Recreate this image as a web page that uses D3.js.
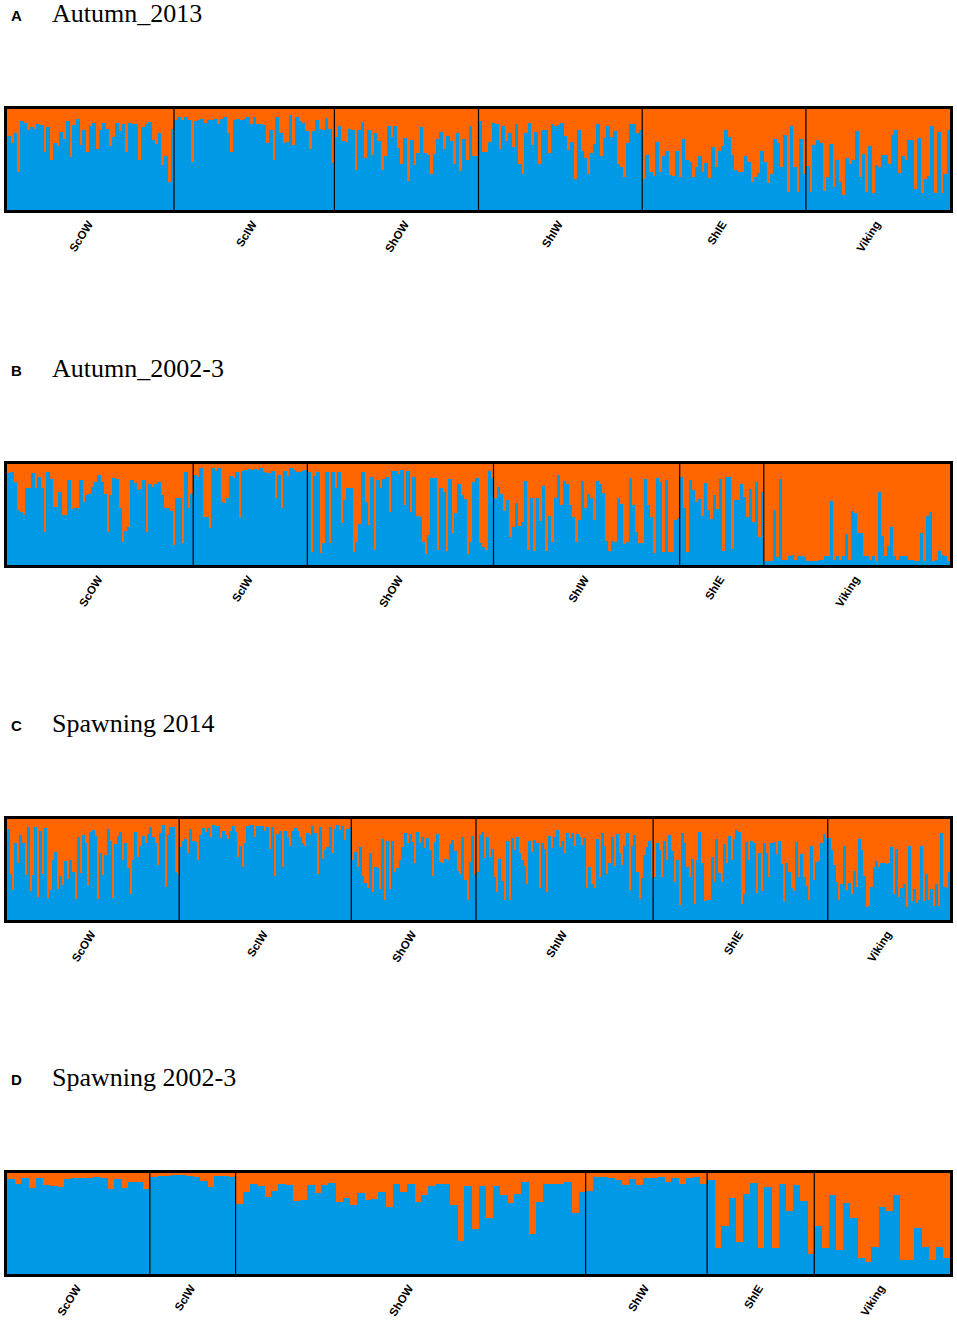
<!DOCTYPE html>
<html>
<head>
<meta charset="utf-8">
<script src="https://cdn.jsdelivr.net/npm/d3@7"></script>
<style>
  body { margin: 0; background: #fff; }
  svg { display: block; }
</style>
</head>
<body>
<svg width="957" height="1322"></svg>
<script>
// population names, same order in every panel
const groups = ["ScOW", "ScIW", "ShOW", "ShIW", "ShIE", "Viking"];
const panelLetters = ["A", "B", "C", "D"];
const panelTitles = ["Autumn_2013", "Autumn_2002-3", "Spawning 2014", "Spawning 2002-3"];

// membership in the blue cluster, % per individual
// A  Autumn_2013
const aut13_ScOW = [73,66,76,38,88,86,79,82,80,85,84,57,82,50,66,63,77,70,88,52,84,90,64,79,57,83,86,60,79,86,80,63,72,86,78,85,57,86,85,85,50,82,85,87,69,65,76,45,53,28,80];
const aut13_ScIW = [89,92,89,92,89,48,88,89,90,86,89,89,90,85,90,92,76,57,89,90,89,90,92,85,92,85,85,84,66,79,50,92,76,66,67,94,64,92,88,86,78,60,78,89,80,79,91,80,47];
const aut13_ShOW = [72,83,68,67,80,79,40,79,87,51,79,54,76,68,40,53,83,72,83,61,46,71,29,69,45,56,82,56,54,36,55,70,77,60,73,68,46,76,39,70,50,83,53,53];
const aut13_ShIW = [88,57,57,67,86,85,60,83,68,76,62,85,46,36,76,86,64,77,46,79,79,56,85,83,84,86,73,59,67,31,79,58,51,36,56,65,85,53,71,83,72,78,46,43,33,66,85,85,76,79];
const aut13_ShIE = [31,54,38,34,67,38,53,58,35,34,58,33,70,50,48,33,43,53,38,47,32,62,43,58,63,79,72,54,40,38,38,53,48,28,33,37,58,48,27,36,70,66,43,74,18,83,43,18,70,36];
const aut13_Viking = [44,18,64,69,66,19,33,65,23,50,28,15,51,46,50,78,33,55,18,63,17,45,43,54,54,46,74,79,37,53,50,69,69,21,71,17,31,34,83,17,77,17,36,79];

// B  Autumn_2002-3
const aut02_ScOW = [91,92,82,54,52,50,76,76,91,76,87,76,33,92,85,57,57,72,50,50,84,55,56,56,84,62,69,70,77,82,89,82,70,33,69,86,85,56,23,34,38,84,81,74,75,84,33,80,77,80,82,69,56,56,53,20,66,66,22,92,56,70];
const aut02_ScIW = [89,87,96,48,48,37,96,93,96,62,61,66,88,86,92,48,93,94,95,94,95,94,96,92,91,91,93,66,89,56,93,88,96,94,92,92,93,94];
const aut02_ShOW = [92,13,88,92,12,22,92,22,92,76,92,42,64,76,76,13,23,41,92,62,40,87,15,84,76,85,87,52,93,93,90,94,59,93,52,87,49,48,23,11,30,86,86,15,76,72,14,85,32,51,80,69,65,11,23,82,86,22,18,15,93,86];
const aut02_ShIW = [66,77,70,53,64,28,38,61,39,43,83,15,66,14,66,44,78,14,49,23,66,89,59,83,80,59,48,23,45,83,56,70,66,45,83,80,71,24,14,24,23,66,60,21,23,86,59,33,22,22,85,59,48,12,86,82,13,84,13,13,45,47];
const aut02_ShIE = [87,56,13,84,74,62,65,49,81,54,46,69,55,85,14,87,87,16,64,64,80,67,48,75,43,82,28,72];
const aut02_Viking = [4,4,4,54,8,85,5,5,9,10,5,9,9,8,4,4,4,4,5,5,9,9,63,5,9,5,9,31,5,53,51,32,32,9,9,5,9,4,72,29,9,19,38,9,5,9,9,9,5,5,4,4,32,4,49,52,4,5,14,10,9,4];

// C  Spawning 2014
const spw14_ScOW = [90,46,30,76,56,84,76,45,92,29,45,92,23,88,46,91,22,30,59,67,31,44,35,58,41,59,48,21,82,47,84,76,35,87,89,83,21,66,45,64,90,78,22,75,83,87,59,76,51,26,59,87,62,73,83,76,85,92,82,76,54,86,94,33,84,92,92,48,45];
const spw14_ScIW = [72,78,80,66,90,78,77,59,84,91,87,91,82,94,93,93,81,88,84,80,88,93,87,62,73,52,76,93,94,94,82,93,93,93,88,92,70,92,44,85,88,52,88,82,73,88,91,88,82,76,73,86,84,93,86,46,92,60,69,72,92,66,90,94,89,93,79,90,92];
const spw14_ShOW = [59,67,52,72,44,37,32,66,28,52,51,31,80,20,78,31,78,48,51,59,72,86,76,85,77,56,87,76,82,71,81,69,44,77,85,57,56,60,59,75,79,68,49,46,82,40,20,57,83,45];
const spw14_ShIW = [48,84,87,61,82,62,70,43,28,60,39,20,78,20,81,69,82,66,59,53,36,78,67,79,76,32,76,70,28,83,71,82,89,72,78,66,86,81,86,73,85,82,74,81,32,52,36,32,80,43,86,73,46,56,82,53,85,66,54,73,86,30,73,84,48,21,42,64,72,78,42];
const spw14_ShIE = [43,76,69,43,78,59,84,68,38,59,15,86,76,52,43,60,16,59,87,56,19,20,20,62,38,80,47,38,75,56,83,59,80,89,87,16,26,77,59,78,76,27,66,29,76,66,43,76,77,65,78,55,19,56,48,32,29,77,43,65,43,34,20,73,40,57,58,76,85,81];
const spw14_Viking = [81,69,54,38,20,36,73,30,37,26,49,33,80,69,44,13,14,33,52,58,52,56,56,55,56,72,26,70,23,32,36,13,73,19,31,17,20,73,19,46,20,31,14,36,14,86,33,32,48];

// D  Spawning 2002-3
const spw02_ScOW = [94,89,95,85,95,88,87,86,94,95,95,95,96,95,84,94,85,91,91,84];
const spw02_ScIW = [96,97,97,98,98,97,96,92,86,97,97,96];
const spw02_ShOW = [69,81,89,87,76,82,89,88,72,73,88,80,88,90,71,75,68,80,73,74,81,66,89,81,89,71,78,87,89,89,68,33,87,45,87,55,87,78,70,79,91,40,71,89,89,89,91,60,81];
const spw02_ShIW = [82,96,96,95,93,88,94,88,95,95,96,91,95,89,95,96,89];
const spw02_ShIE = [93,26,48,75,32,79,90,26,86,26,89,62,88,72,20];
const spw02_Viking = [48,26,78,24,70,55,16,12,27,66,62,78,14,14,46,27,14,27,16];

const panelData = [
    [aut13_ScOW, aut13_ScIW, aut13_ShOW, aut13_ShIW, aut13_ShIE, aut13_Viking],
    [aut02_ScOW, aut02_ScIW, aut02_ShOW, aut02_ShIW, aut02_ShIE, aut02_Viking],
    [spw14_ScOW, spw14_ScIW, spw14_ShOW, spw14_ShIW, spw14_ShIE, spw14_Viking],
    [spw02_ScOW, spw02_ScIW, spw02_ShOW, spw02_ShIW, spw02_ShIE, spw02_Viking]
];

const blue = "#0099e6", orange = "#ff6600";
const svg = d3.select("svg");
const left = 7, right = 950, plotH = 101;
const tops = [109, 464, 819, 1173];

panelData.forEach(function (groupVals, p) {
    const top = tops[p], bottom = top + plotH;

    // flatten individuals, keeping which group they belong to
    let inds = [];
    groupVals.forEach(function (vals, gi) {
        vals.forEach(function (v) { inds.push({ g: gi, q: v / 100 }); });
    });

    const x = d3.scaleBand().domain(d3.range(inds.length)).range([left, right]);
    const y = d3.scaleLinear().domain([0, 1]).range([bottom, top]);
    const g = svg.append("g");

    // panel letter + title
    g.append("text")
        .attr("x", 11).attr("y", top - 88)
        .attr("font-family", "Liberation Sans, Arial, sans-serif")
        .attr("font-weight", "bold").attr("font-size", 15)
        .text(panelLetters[p]);
    g.append("text")
        .attr("x", 52).attr("y", top - 87)
        .attr("font-family", "Liberation Serif, Times New Roman, serif")
        .attr("font-size", 26)
        .text(panelTitles[p]);

    // orange background of the plot, blue part of every bar on top of it
    g.append("rect")
        .attr("x", left).attr("y", top)
        .attr("width", right - left).attr("height", plotH)
        .attr("fill", orange);

    g.selectAll(".ind")
        .data(inds)
        .enter().append("rect")
        .attr("class", "ind")
        .attr("shape-rendering", "crispEdges")
        .attr("x", function (d, i) { return x(i); })
        .attr("width", x.bandwidth() + 0.5)
        .attr("y", function (d) { return y(d.q); })
        .attr("height", function (d) { return bottom - y(d.q); })
        .attr("fill", blue);

    // group borders and labels
    let start = 0;
    groupVals.forEach(function (vals, gi) {
        const x0 = x(start), x1 = start + vals.length < inds.length ? x(start + vals.length) : right;
        if (gi > 0) {
            g.append("line")
                .attr("x1", x0).attr("x2", x0)
                .attr("y1", top).attr("y2", bottom)
                .attr("stroke", "#000").attr("stroke-width", 1.2);
        }
        const cx = (x0 + x1) / 2 + 3, cy = bottom + 14;
        g.append("text")
            .attr("transform", "translate(" + cx + "," + cy + ") rotate(-58)")
            .attr("text-anchor", "end")
            .attr("font-family", "Liberation Sans, Arial, sans-serif")
            .attr("font-weight", "bold").attr("font-size", 11.5)
            .text(groups[gi]);
        start += vals.length;
    });

    // frame
    g.append("rect")
        .attr("x", left - 1.5).attr("y", top - 1.5)
        .attr("width", right - left + 3).attr("height", plotH + 3)
        .attr("fill", "none")
        .attr("stroke", "#000").attr("stroke-width", 3);
});
</script>
</body>
</html>
